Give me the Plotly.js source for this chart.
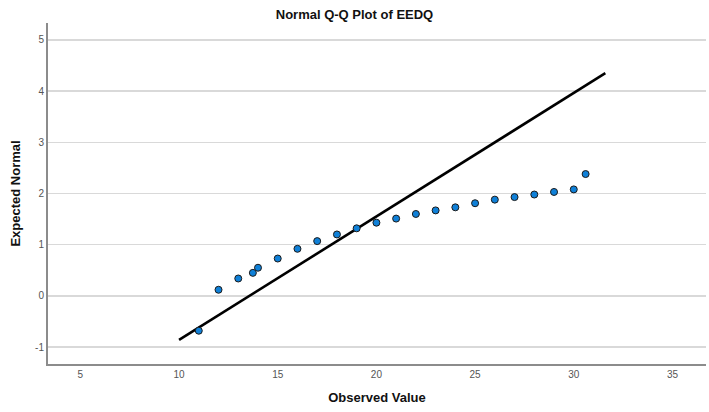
<!DOCTYPE html>
<html>
<head>
<meta charset="utf-8">
<script src="https://cdn.plot.ly/plotly-3.0.1.min.js"></script>
<style>html,body{margin:0;padding:0;background:#fff;}#chart{width:709px;height:412px;}</style>
</head>
<body>
<div id="chart"></div>
<script>
const observed = [11, 12, 13, 13.74, 14, 15, 16, 17, 18, 19, 20, 21, 22, 23, 24, 25, 26, 27, 28, 29, 30, 30.6];
const expected = [-0.68, 0.12, 0.34, 0.45, 0.55, 0.73, 0.92, 1.07, 1.20, 1.32, 1.43, 1.51, 1.60, 1.67, 1.73, 1.81, 1.88, 1.93, 1.98, 2.03, 2.08, 2.38];
// Reference line end points
const lineX = [10, 31.6];
const lineY = [-0.86, 4.35];
const xTicks = [5, 10, 15, 20, 25, 30, 35];
const yTicks = [-1, 0, 1, 2, 3, 4, 5];

const traces = [
  {x: lineX, y: lineY, mode: 'lines', type: 'scatter', line: {color: '#000', width: 2.6}, hoverinfo: 'skip', showlegend: false},
  {x: observed, y: expected, mode: 'markers', type: 'scatter',
   marker: {color: '#0f80d8', size: 7, line: {color: '#1a1a1a', width: 1}}, showlegend: false}
];

const layout = {
  width: 709, height: 412,
  margin: {l: 48, r: 3, t: 23, b: 48},
  paper_bgcolor: '#fff', plot_bgcolor: '#fff',
  font: {family: 'Liberation Sans, Arial, sans-serif', color: '#000'},
  title: {text: '<b>Normal Q-Q Plot of EEDQ</b>', font: {size: 13, color: '#111'}, x: 0.5, xanchor: 'center', xref: 'container', y: 0.966, yanchor: 'middle', yref: 'container'},
  xaxis: {
    range: [3.36, 36.7], tickvals: xTicks, ticktext: xTicks.map(String),
    showgrid: false, zeroline: false, showline: true, linecolor: '#8c8c8c', linewidth: 2,
    ticks: '', tickfont: {size: 10, color: '#555'},
    title: {text: '<b>Observed Value</b>', font: {size: 13, color: '#111'}, standoff: 14}
  },
  yaxis: {
    range: [-1.33, 5.33], tickvals: yTicks, ticktext: yTicks.map(String),
    showgrid: true, gridcolor: '#d9d9d9', gridwidth: 1.5, zeroline: false,
    showline: true, linecolor: '#8c8c8c', linewidth: 2,
    ticks: '', tickfont: {size: 10, color: '#555'},
    title: {text: '<b>Expected Normal</b>', font: {size: 13, color: '#111'}, standoff: 12}
  }
};

Plotly.newPlot('chart', traces, layout, {displayModeBar: false, staticPlot: true});
</script>
</body>
</html>
